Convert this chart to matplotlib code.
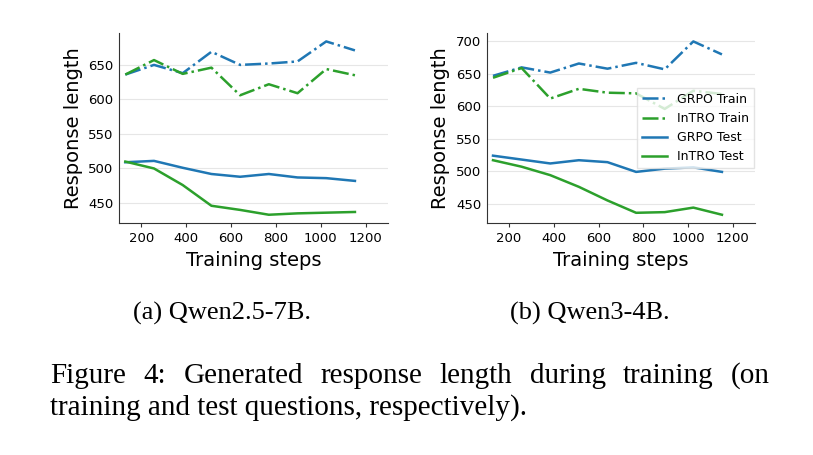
import numpy as np
import matplotlib
matplotlib.use("Agg")
import matplotlib.pyplot as plt

steps = [128, 256, 384, 512, 640, 768, 896, 1024, 1152]

# Qwen2.5-7B
a_grpo_train = [636, 650, 638, 669, 650, 652, 655, 684, 671]
a_intro_train = [636, 657, 637, 646, 606, 622, 609, 644, 635]
a_grpo_test = [509, 511, 501, 492, 488, 492, 487, 486, 482]
a_intro_test = [510, 500, 476, 446, 440, 433, 435, 436, 437]

# Qwen3-4B
b_grpo_train = [647, 660, 652, 666, 658, 667, 657, 700, 680]
b_intro_train = [644, 659, 612, 627, 621, 620, 596, 624, 619]
b_grpo_test = [524, 518, 512, 517, 514, 499, 504, 506, 499]
b_intro_test = [517, 507, 494, 476, 455, 436, 437, 444, 433]

subcaptions = ["(a) Qwen2.5-7B.", "(b) Qwen3-4B."]
caption_1 = "Figure 4: Generated response length during training (on"
caption_2 = "training and test questions, respectively)."

blue = "#1f77b4"
green = "#2ca02c"

fig = plt.figure(figsize=(8.13, 4.55), dpi=100)
ax1 = fig.add_axes([0.1464, 0.509, 0.331, 0.419])
ax2 = fig.add_axes([0.5987, 0.509, 0.330, 0.419])

data = [
    (ax1, a_grpo_train, a_intro_train, a_grpo_test, a_intro_test),
    (ax2, b_grpo_train, b_intro_train, b_grpo_test, b_intro_test),
]

for ax, gtr, itr, gte, ite in data:
    ax.plot(steps, gtr, "-.", color=blue, lw=1.8, label="GRPO Train")
    ax.plot(steps, itr, "-.", color=green, lw=1.8, label="InTRO Train")
    ax.plot(steps, gte, "-", color=blue, lw=1.8, label="GRPO Test")
    ax.plot(steps, ite, "-", color=green, lw=1.8, label="InTRO Test")
    ax.set_xlim(100, 1300)
    ax.set_xticks([200, 400, 600, 800, 1000, 1200])
    ax.grid(axis="y", color="#e6e6e6", lw=0.8)
    ax.set_axisbelow(True)
    for s in ["top", "right"]:
        ax.spines[s].set_visible(False)
    for s in ["left", "bottom"]:
        ax.spines[s].set_color("#333333")
    ax.tick_params(axis="x", labelsize=9.5, length=3, color="#333333")
    ax.tick_params(axis="y", labelsize=9.5, length=0, pad=4)
    ax.set_xlabel("Training steps", fontsize=14)
    ax.set_ylabel("Response length", fontsize=14)

ax2.legend(loc="center right", fontsize=9, framealpha=0.8, edgecolor="#dddddd",
           fancybox=False, borderaxespad=0.1, handlelength=2.0)

serif = "Liberation Serif"
fig.text(222 / 813, 1 - 320 / 455, subcaptions[0], family=serif, fontsize=19,
         ha="center", va="baseline")
fig.text(590 / 813, 1 - 320 / 455, subcaptions[1], family=serif, fontsize=19,
         ha="center", va="baseline")

# justified first caption line
fig.canvas.draw()
renderer = fig.canvas.get_renderer()
words = caption_1.split(" ")
x0, x1 = 50, 770
widths = []
for w in words:
    t = fig.text(0, 0, w, family=serif, fontsize=21)
    widths.append(t.get_window_extent(renderer).width)
    t.remove()
gap = (x1 - x0 - sum(widths)) / (len(words) - 1)
x = x0
for w, wd in zip(words, widths):
    fig.text(x / 813, 1 - 383 / 455, w, family=serif, fontsize=21, va="baseline")
    x += wd + gap
fig.text(50 / 813, 1 - 415 / 455, caption_2, family=serif, fontsize=21, va="baseline")

fig.savefig("out.png", dpi=100)
